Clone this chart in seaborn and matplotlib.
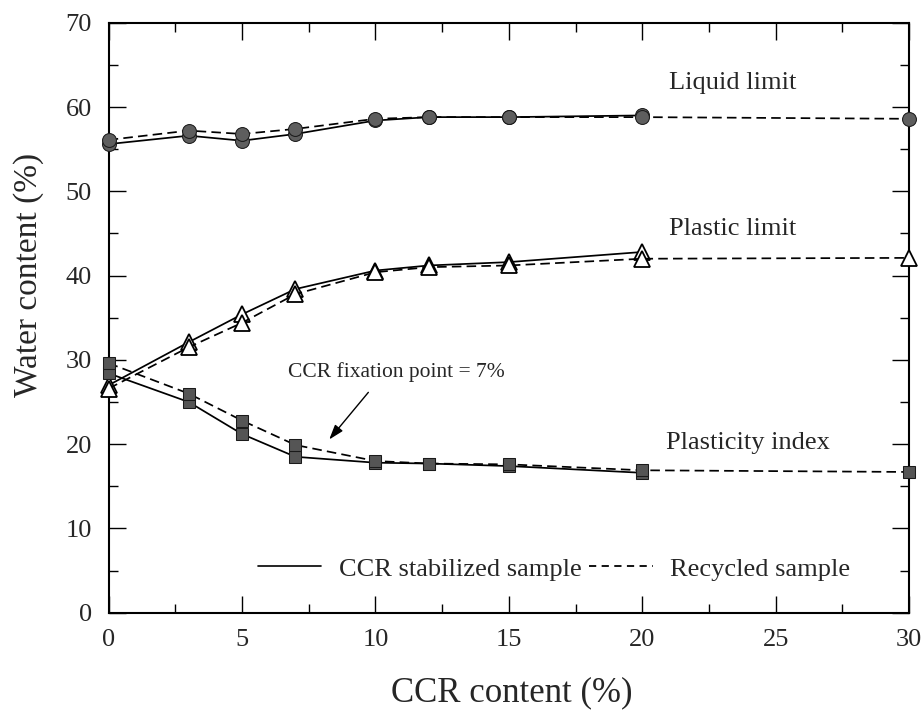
import numpy as np
import pandas as pd
import matplotlib
matplotlib.use("Agg")
import matplotlib.pyplot as plt
import seaborn as sns
from matplotlib.lines import Line2D
from matplotlib.ticker import MultipleLocator

# --- dados ---
x_ccr = [0, 3, 5, 7, 10, 12, 15, 20]
x_rec = [0, 3, 5, 7, 10, 12, 15, 20, 30]

ll_ccr = [55.6, 56.6, 56.0, 56.8, 58.4, 58.8, 58.8, 59.0]
ll_rec = [56.1, 57.2, 56.8, 57.4, 58.6, 58.8, 58.8, 58.8, 58.6]
pl_ccr = [27.0, 32.1, 35.4, 38.4, 40.6, 41.2, 41.6, 42.8]
pl_rec = [26.6, 31.5, 34.4, 37.8, 40.4, 41.0, 41.2, 42.0, 42.1]
pi_ccr = [28.4, 25.0, 21.2, 18.5, 17.8, 17.7, 17.4, 16.6]
pi_rec = [29.6, 26.0, 22.8, 19.9, 18.0, 17.7, 17.6, 16.9, 16.7]

legend_labels = ["CCR stabilized sample", "Recycled sample"]
curve_labels = ["Liquid limit", "Plastic limit", "Plasticity index"]
note_text = "CCR fixation point = 7%"

sns.set_style("ticks")
plt.rcParams['font.family'] = ['Liberation Serif', 'DejaVu Serif']

fig = plt.figure(figsize=(9.21, 7.1), dpi=100)
ax = fig.add_axes([0.118, 0.137, 0.869, 0.831])

dash = (0, (5.5, 3))
styles = {
    "ll": dict(marker='o', markersize=10, markerfacecolor='#5e5e5e', markeredgecolor='#1a1a1a'),
    "pl": dict(marker='^', markersize=12, markerfacecolor='white', markeredgecolor='black', markeredgewidth=1.3),
    "pi": dict(marker='s', markersize=8.5, markerfacecolor='#555555', markeredgecolor='#1a1a1a'),
}

series = [
    ("ll", x_ccr, ll_ccr, '-'), ("ll", x_rec, ll_rec, dash),
    ("pl", x_ccr, pl_ccr, '-'), ("pl", x_rec, pl_rec, dash),
    ("pi", x_ccr, pi_ccr, '-'), ("pi", x_rec, pi_rec, dash),
]
for key, xs, ys, ls in series:
    sns.lineplot(x=xs, y=ys, ax=ax, color='black', linewidth=1.25, linestyle=ls,
                 estimator=None, sort=False, clip_on=False, zorder=3, **styles[key])

ax.set_xlim(0, 30)
ax.set_ylim(0, 70)
ax.xaxis.set_major_locator(MultipleLocator(5))
ax.xaxis.set_minor_locator(MultipleLocator(2.5))
ax.yaxis.set_major_locator(MultipleLocator(10))
ax.yaxis.set_minor_locator(MultipleLocator(5))
ax.tick_params(which='both', direction='in', top=True, right=True, labelsize=19, width=1.0, color='black')
ax.tick_params(which='major', length=12, pad=12)
ax.tick_params(which='minor', length=6.5)
for sp in ax.spines.values():
    sp.set_linewidth(1.5)
    sp.set_color('black')

ax.set_xlabel("CCR content (%)", fontsize=25, va='center')
ax.xaxis.set_label_coords(0.503, -0.135)
ax.set_ylabel("Water content (%)", fontsize=24, va='center')
ax.yaxis.set_label_coords(-0.1, 0.573)

# textos das curvas
ax.text(21.0, 62.9, curve_labels[0], fontsize=19, va='center', ha='left')
ax.text(21.0, 45.5, curve_labels[1], fontsize=19, va='center', ha='left')
ax.text(20.9, 20.1, curve_labels[2], fontsize=19, va='center', ha='left')

# anotação
ax.text(10.8, 28.6, note_text, fontsize=15.5, va='center', ha='center')
ax.annotate("", xy=(8.2, 20.3), xytext=(9.8, 26.4),
            arrowprops=dict(arrowstyle='-|>,head_length=0.9,head_width=0.3', color='black', lw=1.0))

handles = [Line2D([], [], color='black', lw=1.2, linestyle='-'),
           Line2D([], [], color='black', lw=1.3, linestyle=(0, (4, 3)))]
ax.legend(handles, legend_labels, ncol=2, frameon=False, fontsize=19,
          loc='center left', bbox_to_anchor=(5.6, 5.2), bbox_transform=ax.transData,
          borderpad=0, borderaxespad=0, handlelength=2.4, handletextpad=0.65, columnspacing=0.3)

fig.savefig("out.png", dpi=100)
